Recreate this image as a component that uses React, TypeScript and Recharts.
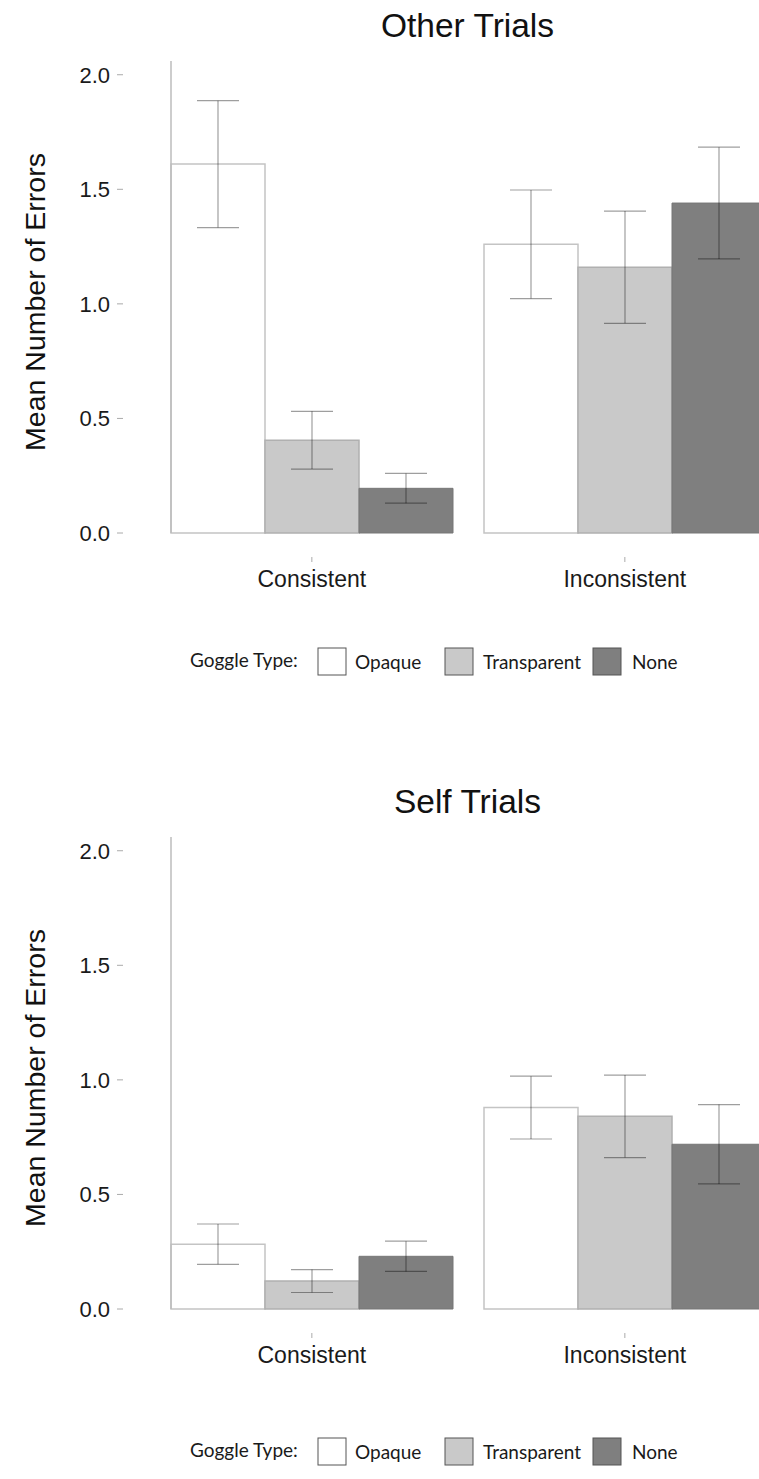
import React from "react";
import { Bar, BarChart, ErrorBar, XAxis, YAxis } from "recharts";

// categories + tick labels
const conditions = ["Consistent", "Inconsistent"];
const yTicks = [0, 0.5, 1, 1.5, 2];
const goggleTypes = ["Opaque", "Transparent", "None"];

// Other Trials: means and error half-widths (Consistent, Inconsistent)
const otherOpaque = [1.61, 1.26];
const otherOpaqueErr = [0.277, 0.237];
const otherTransparent = [0.405, 1.16];
const otherTransparentErr = [0.126, 0.245];
const otherNone = [0.195, 1.44];
const otherNoneErr = [0.065, 0.244];

// Self Trials
const selfOpaque = [0.283, 0.879];
const selfOpaqueErr = [0.088, 0.137];
const selfTransparent = [0.122, 0.841];
const selfTransparentErr = [0.05, 0.18];
const selfNone = [0.23, 0.719];
const selfNoneErr = [0.066, 0.173];

const buildRows = (o, oe, t, te, n, ne) =>
  conditions.map((c, i) => ({
    condition: c,
    opaque: o[i],
    opaqueErr: oe[i],
    transparent: t[i],
    transparentErr: te[i],
    none: n[i],
    noneErr: ne[i],
  }));

const otherRows = buildRows(otherOpaque, otherOpaqueErr, otherTransparent, otherTransparentErr, otherNone, otherNoneErr);
const selfRows = buildRows(selfOpaque, selfOpaqueErr, selfTransparent, selfTransparentErr, selfNone, selfNoneErr);

const FONT = "'Liberation Sans', Arial, Helvetica, sans-serif";
const fills = { Opaque: "#ffffff", Transparent: "#c9c9c9", None: "#7f7f7f" };
const errColor = "rgba(0,0,0,0.38)";

const YTick = (props: any) => {
  const { x, y, payload } = props;
  return (
    <g>
      <line x1={x - 54} x2={x - 48} y1={y} y2={y} stroke="#aaaaaa" strokeWidth={1} />
      <text x={x - 61} y={y + 8} textAnchor="end" fontSize={22} fontFamily={FONT} fill="#1a1a1a">
        {Number(payload.value).toFixed(1)}
      </text>
    </g>
  );
};

const XTick = (props: any) => {
  const { x, y, payload } = props;
  return (
    <g>
      <line x1={x} x2={x} y1={y + 24} y2={y + 29} stroke="#aaaaaa" strokeWidth={1} />
      <text x={x} y={y + 54} textAnchor="middle" fontSize={23} fontFamily={FONT} fill="#1a1a1a">
        {payload.value}
      </text>
    </g>
  );
};

const Legend = ({ y }: { y: number }) => {
  const boxX = [318, 445, 593];
  const textX = [355, 483, 632];
  return (
    <g fontFamily="Lato, 'Open Sans', sans-serif" fontSize={19} fill="#1a1a1a">
      <text x={190} y={y + 6}>Goggle Type:</text>
      {goggleTypes.map((g, i) => (
        <g key={g}>
          <rect x={boxX[i]} y={y - 13} width={28} height={27} fill={fills[g]} stroke="#555" strokeWidth={1} />
          <text x={textX[i]} y={y + 8}>{g}</text>
        </g>
      ))}
    </g>
  );
};

const Panel = ({ top, title, rows, titleY, legendY, height }) => (
  <div style={{ position: "absolute", left: 0, top, width: 790, height }}>
    <BarChart
      width={790}
      height={600}
      data={rows}
      margin={{ top: 61, right: 8.65, bottom: 0, left: 0 }}
      barCategoryGap="5%"
      barGap={0}
    >
      <XAxis
        dataKey="condition"
        axisLine={false}
        tickLine={false}
        tickSize={0}
        tickMargin={0}
        height={67}
        interval={0}
        padding={{ left: -15.65, right: 0 }}
        tick={<XTick />}
      />
      <YAxis
        width={171}
        domain={[0, 2.06]}
        ticks={yTicks}
        axisLine={{ stroke: "#bdbdbd", strokeWidth: 1.5 }}
        tickLine={false}
        tickSize={0}
        tickMargin={0}
        tick={<YTick />}
      />
      <Bar dataKey="opaque" fill={fills.Opaque} stroke="#c4c4c4" strokeWidth={1.5} isAnimationActive={false}>
        <ErrorBar dataKey="opaqueErr" width={21} stroke={errColor} strokeWidth={1.2} />
      </Bar>
      <Bar dataKey="transparent" fill={fills.Transparent} stroke="#b0b0b0" strokeWidth={1.5} isAnimationActive={false}>
        <ErrorBar dataKey="transparentErr" width={21} stroke={errColor} strokeWidth={1.2} />
      </Bar>
      <Bar dataKey="none" fill={fills.None} stroke="#777" strokeWidth={1} isAnimationActive={false}>
        <ErrorBar dataKey="noneErr" width={21} stroke={errColor} strokeWidth={1.2} />
      </Bar>
    </BarChart>
    <svg width={790} height={height} style={{ position: "absolute", left: 0, top: 0, pointerEvents: "none" }}>
      <text x={467.5} y={titleY} textAnchor="middle" fontSize={33.5} fontFamily={FONT} fill="#111">
        {title}
      </text>
      <text
        transform="translate(35, 302) rotate(-90)"
        textAnchor="middle"
        dominantBaseline="central"
        fontSize={28.5}
        fontFamily={FONT}
        fill="#111"
      >
        Mean Number of Errors
      </text>
      <Legend y={legendY} />
    </svg>
  </div>
);

export default function App() {
  return (
    <div
      style={{
        position: "absolute",
        left: 0,
        top: 0,
        width: 759,
        height: 1479,
        overflow: "hidden",
        background: "#fff",
      }}
    >
      <Panel top={0} title="Other Trials" rows={otherRows} titleY={37} legendY={661} height={700} />
      <Panel top={776} title="Self Trials" rows={selfRows} titleY={37} legendY={675} height={703} />
    </div>
  );
}
